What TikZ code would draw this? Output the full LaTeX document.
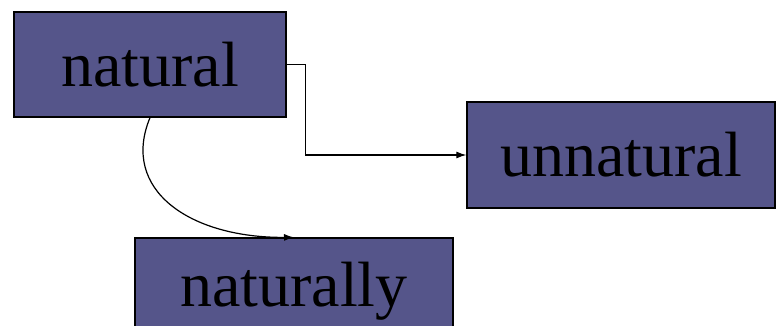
\documentclass[tikz,border=0pt]{standalone}
\usepackage{fontspec}
\setmainfont{Liberation Serif}
\usepackage{tikz}
\usetikzlibrary{arrows.meta,shapes}
\definecolor{wordfill}{RGB}{85,85,138}
\tikzstyle{word}=[rectangle,draw=black,line width=1.3pt,fill=wordfill,
                  text=black,inner sep=0pt,font=\fontsize{64}{64}\selectfont]
\tikzstyle{deriv}=[-{Latex[length=10pt,width=7pt]},draw=black,line width=1.2pt]

\begin{document}
\begin{tikzpicture}[x=1pt,y=-1pt]
    \useasboundingbox (0,0) rectangle (776,326);

    % Draw the word nodes
    \node[word, minimum width=272pt, minimum height=105pt] (natural) at (150,64.5) {natural};
    \node[word, minimum width=308pt, minimum height=106pt] (unnatural) at (621,155) {unnatural};
    \node[word, minimum width=318pt, minimum height=106pt] (naturally) at (294,291) {naturally};

    % prefix derivation
    \draw[deriv] (natural.east) -- ++(19,0) |- (unnatural.west);

    % suffix derivation
    \draw[deriv] (natural.south) .. controls (120,190) and (190,238) .. (naturally.north);
\end{tikzpicture}
\end{document}
